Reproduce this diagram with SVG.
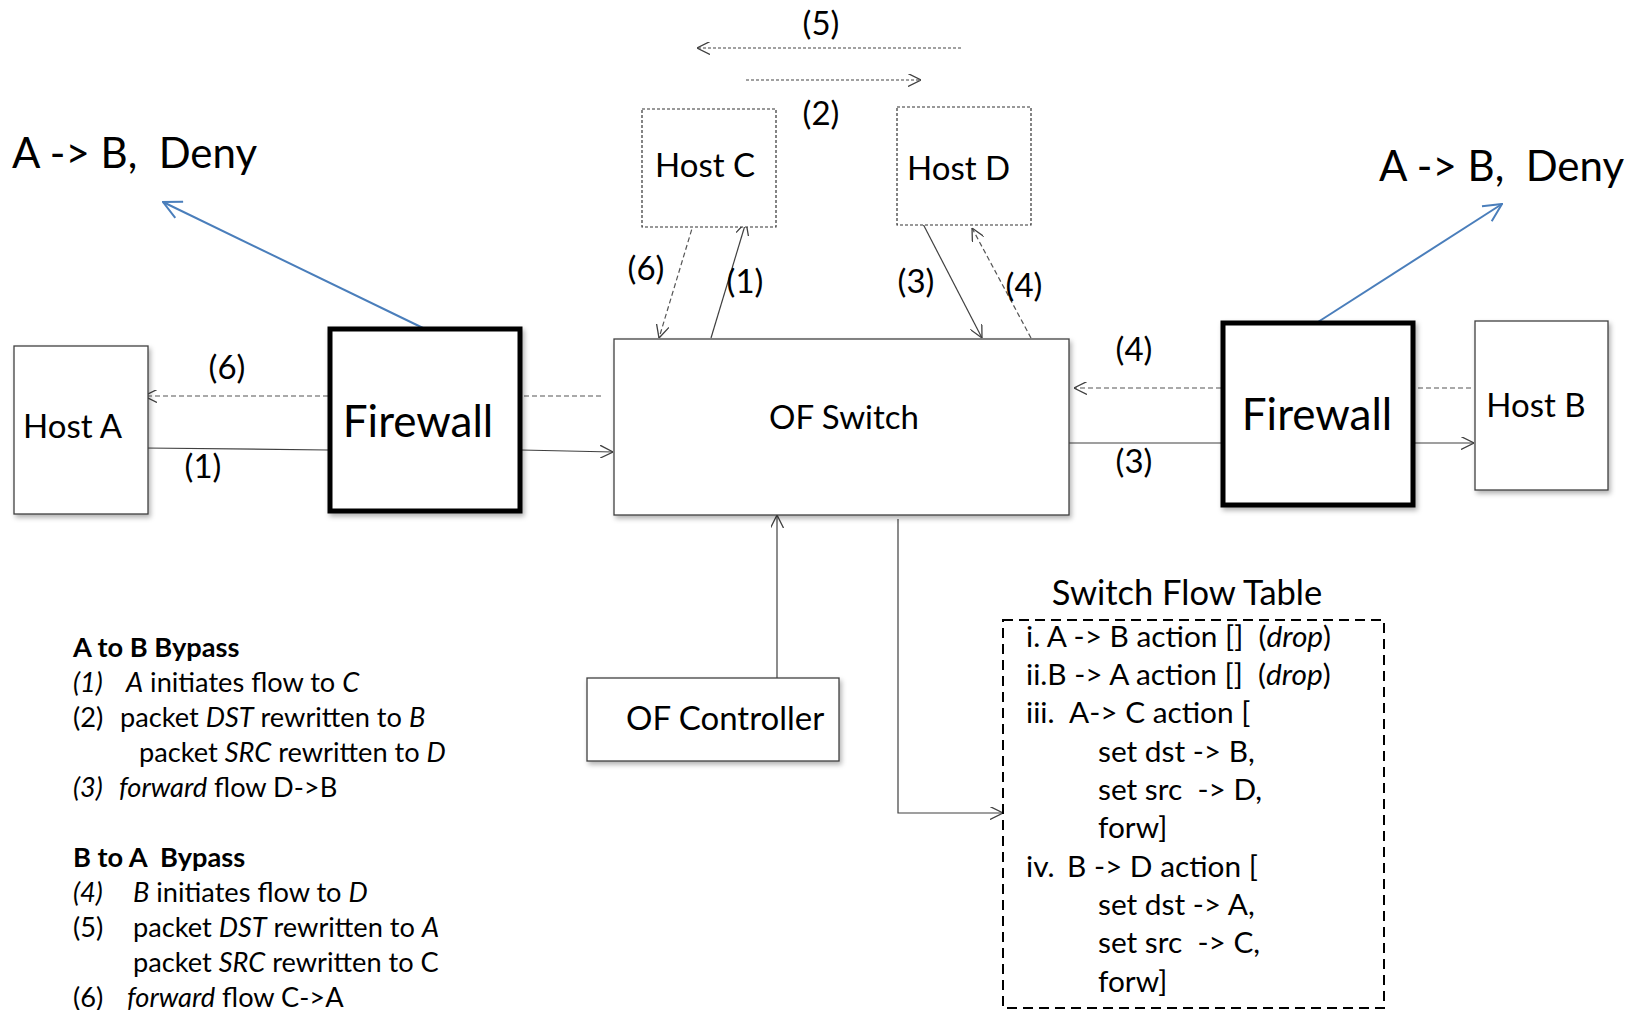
<svg xmlns="http://www.w3.org/2000/svg" width="1642" height="1010" viewBox="0 0 1642 1010">
  <style>
    text { font-family: Lato, "Open Sans", "Liberation Sans", sans-serif; fill: #000; }
    .big { font-size: 42px; }
    .fw { font-size: 44px; text-anchor: middle; }
    .node { font-size: 33px; }
    .title { font-size: 34.5px; text-anchor: middle; }
    .mid { text-anchor: middle; }
    .step { font-size: 33px; text-anchor: middle; }
    .tbl { font-size: 29.8px; }
    .note { font-size: 27.2px; }
    .it { font-style: italic; }
    .b { font-weight: bold; }
    .box { fill: #fff; stroke: #404040; stroke-width: 1.3; }
    .fwbox { fill: #fff; stroke: #000; stroke-width: 5; }
    .dotbox { fill: #fff; stroke: #333; stroke-width: 1.2; stroke-dasharray: 3 2; }
    .tblbox { fill: none; stroke: #000; stroke-width: 2; stroke-dasharray: 10 6; }
    .ln { fill: none; stroke: #404040; stroke-width: 1.2; }
    .dash { fill: none; stroke: #555; stroke-width: 1.2; stroke-dasharray: 5 3; }
    .dot { fill: none; stroke: #444; stroke-width: 1.1; stroke-dasharray: 3 2; }
    .blue { fill: none; stroke: #4a7ebb; stroke-width: 2; }
  </style>
  <defs>
    <marker id="arr" markerUnits="userSpaceOnUse" viewBox="0 0 12 12" markerWidth="13" markerHeight="13" refX="12" refY="6" orient="auto">
      <path d="M0,0 L12,6 L0,12" fill="none" stroke="#404040" stroke-width="1.2"/>
    </marker>
    <marker id="arrBlue" markerUnits="userSpaceOnUse" viewBox="0 0 20 20" markerWidth="20" markerHeight="20" refX="19" refY="10" orient="auto">
      <path d="M1,1 L19,10 L1,19" fill="none" stroke="#4a7ebb" stroke-width="2"/>
    </marker>
    <filter id="shadow" x="-10%" y="-10%" width="125%" height="125%">
      <feDropShadow dx="2" dy="3" stdDeviation="2.5" flood-color="#000" flood-opacity="0.3"/>
    </filter>
  </defs>

  <!-- Connectors -->
  <g id="connectors">
    <line class="blue" x1="423" y1="328" x2="163" y2="202" marker-end="url(#arrBlue)"/>
    <line class="blue" x1="1318" y1="322" x2="1502" y2="204" marker-end="url(#arrBlue)"/>
    <line class="dot" x1="961" y1="48" x2="697" y2="48" marker-end="url(#arr)"/>
    <line class="dot" x1="746" y1="80" x2="921" y2="80" marker-end="url(#arr)"/>
    <line class="dash" x1="694" y1="222" x2="659" y2="338" marker-end="url(#arr)"/>
    <line class="ln" x1="711" y1="338" x2="746" y2="222" marker-end="url(#arr)"/>
    <line class="ln" x1="922" y1="222" x2="982" y2="338" marker-end="url(#arr)"/>
    <line class="dash" x1="1031" y1="338" x2="972" y2="228" marker-end="url(#arr)"/>
    <line class="dash" x1="328" y1="396" x2="144" y2="396" marker-end="url(#arr)"/>
    <line class="dash" x1="524" y1="396" x2="603" y2="396"/>
    <line class="ln" x1="144" y1="448" x2="328" y2="450"/>
    <line class="ln" x1="521" y1="450" x2="613" y2="452" marker-end="url(#arr)"/>
    <line class="dash" x1="1471" y1="388" x2="1416" y2="388"/>
    <line class="dash" x1="1221" y1="388" x2="1074" y2="388" marker-end="url(#arr)"/>
    <line class="ln" x1="1069" y1="443" x2="1222" y2="443"/>
    <line class="ln" x1="1414" y1="443" x2="1474" y2="443" marker-end="url(#arr)"/>
    <line class="ln" x1="777" y1="678" x2="777" y2="515" marker-end="url(#arr)"/>
    <polyline class="ln" points="898,519 898,813 1003,813" marker-end="url(#arr)"/>
  </g>

  <!-- Step labels -->
  <g id="labels">
    <text class="step" x="821" y="35">(5)</text>
    <text class="step" x="821" y="125">(2)</text>
    <text class="step" x="646" y="280">(6)</text>
    <text class="step" x="745" y="293">(1)</text>
    <text class="step" x="916" y="293">(3)</text>
    <text class="step" x="1024" y="297">(4)</text>
    <text class="step" x="227" y="379">(6)</text>
    <text class="step" x="203" y="478">(1)</text>
    <text class="step" x="1134" y="361">(4)</text>
    <text class="step" x="1134" y="473">(3)</text>
  </g>

  <!-- Firewall rule annotations -->
  <text class="big" x="12" y="168" xml:space="preserve">A -&gt; B,  Deny</text>
  <text class="big" x="1379" y="181" xml:space="preserve">A -&gt; B,  Deny</text>

  <g id="hostA">
    <rect class="box" x="14" y="346" width="134" height="168" filter="url(#shadow)"/>
    <text class="node" x="23" y="438">Host A</text>
  </g>
  <g id="firewallA">
    <rect class="fwbox" x="330" y="329" width="190" height="182" filter="url(#shadow)"/>
    <text class="fw" x="418" y="437">Firewall</text>
  </g>
  <g id="hostC">
    <rect class="dotbox" x="642" y="109" width="134" height="118"/>
    <text class="node" x="655" y="177">Host C</text>
  </g>
  <g id="hostD">
    <rect class="dotbox" x="897" y="107" width="134" height="118"/>
    <text class="node" x="907" y="180">Host D</text>
  </g>
  <g id="ofSwitch">
    <rect class="box" x="614" y="339" width="455" height="176" filter="url(#shadow)"/>
    <text class="node mid" x="844" y="429">OF Switch</text>
  </g>
  <g id="firewallB">
    <rect class="fwbox" x="1223" y="323" width="190" height="182" filter="url(#shadow)"/>
    <text class="fw" x="1317" y="430">Firewall</text>
  </g>
  <g id="hostB">
    <rect class="box" x="1475" y="321" width="133" height="169" filter="url(#shadow)"/>
    <text class="node mid" x="1536" y="417">Host B</text>
  </g>
  <g id="ofController">
    <rect class="box" x="587" y="678" width="252" height="83" filter="url(#shadow)"/>
    <text class="node" x="626" y="730">OF Controller</text>
  </g>

  <g id="flowTable">
    <text class="title" x="1187" y="605">Switch Flow Table</text>
    <rect class="tblbox" x="1003" y="620" width="381" height="388"/>
    <text class="tbl" x="1026" y="647" xml:space="preserve">i. A -&gt; B action []  (<tspan class="it">drop</tspan>)</text>
    <text class="tbl" x="1026" y="685" xml:space="preserve">ii.B -&gt; A action []  (<tspan class="it">drop</tspan>)</text>
    <text class="tbl" y="723"><tspan x="1026">iii.</tspan><tspan x="1069">A-&gt; C action [</tspan></text>
    <text class="tbl" x="1098" y="762">set dst -&gt; B,</text>
    <text class="tbl" x="1098" y="800" xml:space="preserve">set src  -&gt; D,</text>
    <text class="tbl" x="1098" y="838">forw]</text>
    <text class="tbl" y="877"><tspan x="1026">iv.</tspan><tspan x="1067">B -&gt; D action [</tspan></text>
    <text class="tbl" x="1098" y="915">set dst -&gt; A,</text>
    <text class="tbl" x="1098" y="953" xml:space="preserve">set src  -&gt; C,</text>
    <text class="tbl" x="1098" y="992">forw]</text>
  </g>

  <g id="bypassNotes">
    <text class="note b" x="73" y="657">A to B Bypass</text>
    <text class="note" y="692" xml:space="preserve"><tspan class="it" x="73">(1)</tspan><tspan class="it" x="126">A</tspan> initiates flow to <tspan class="it">C</tspan></text>
    <text class="note" y="727" xml:space="preserve"><tspan x="73">(2)</tspan><tspan x="120">packet </tspan><tspan class="it">DST</tspan> rewritten to <tspan class="it">B</tspan></text>
    <text class="note" x="139" y="762" xml:space="preserve">packet <tspan class="it">SRC</tspan> rewritten to <tspan class="it">D</tspan></text>
    <text class="note" y="797" xml:space="preserve"><tspan class="it" x="73">(3)</tspan><tspan class="it" x="119">forward</tspan> flow D-&gt;B</text>
    <text class="note b" x="73" y="867" xml:space="preserve">B to A  Bypass</text>
    <text class="note" y="902" xml:space="preserve"><tspan class="it" x="73">(4)</tspan><tspan class="it" x="133">B</tspan> initiates flow to <tspan class="it">D</tspan></text>
    <text class="note" y="937" xml:space="preserve"><tspan x="73">(5)</tspan><tspan x="133">packet </tspan><tspan class="it">DST</tspan> rewritten to <tspan class="it">A</tspan></text>
    <text class="note" x="133" y="972" xml:space="preserve">packet <tspan class="it">SRC</tspan> rewritten to C</text>
    <text class="note" y="1007" xml:space="preserve"><tspan x="73">(6)</tspan><tspan class="it" x="127">forward</tspan> flow C-&gt;A</text>
  </g>
</svg>
